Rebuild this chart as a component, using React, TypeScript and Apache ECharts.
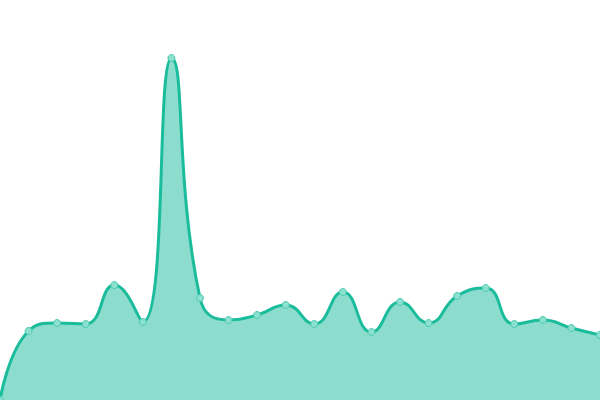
import React, { useEffect, useRef } from "react";
import * as echarts from "echarts";

const categories = [
  "1", "2", "3", "4", "5", "6", "7", "8", "9", "10", "11",
  "12", "13", "14", "15", "16", "17", "18", "19", "20", "21", "22",
];
const values = [
  0, 69, 77, 76, 115, 78, 342, 102, 80, 85, 95,
  76, 108, 68, 98, 77, 104, 112, 76, 80, 72, 65,
];

export default function App() {
  const ref = useRef<HTMLDivElement>(null);
  useEffect(() => {
    if (!ref.current) return;
    const chart = echarts.init(ref.current, undefined, { renderer: "svg" });
    chart.setOption({
      animation: false,
      grid: { left: 0, right: 0, top: 0, bottom: 0 },
      xAxis: {
        type: "category",
        data: categories,
        boundaryGap: false,
        show: false,
      },
      yAxis: { type: "value", min: 0, max: 400, show: false },
      series: [
        {
          type: "line",
          data: values,
          smooth: true,
          symbol: "circle",
          symbolSize: 7,
          lineStyle: { color: "#1abc9c", width: 3 },
          itemStyle: { color: "#8ce0cf", borderColor: "#4ccaae", borderWidth: 1 },
          areaStyle: { color: "#1abc9c", opacity: 0.5 },
        },
      ],
    });
    return () => chart.dispose();
  }, []);
  return (
    <div
      ref={ref}
      style={{ position: "absolute", left: 0, top: 0, width: 600, height: 400 }}
    />
  );
}
